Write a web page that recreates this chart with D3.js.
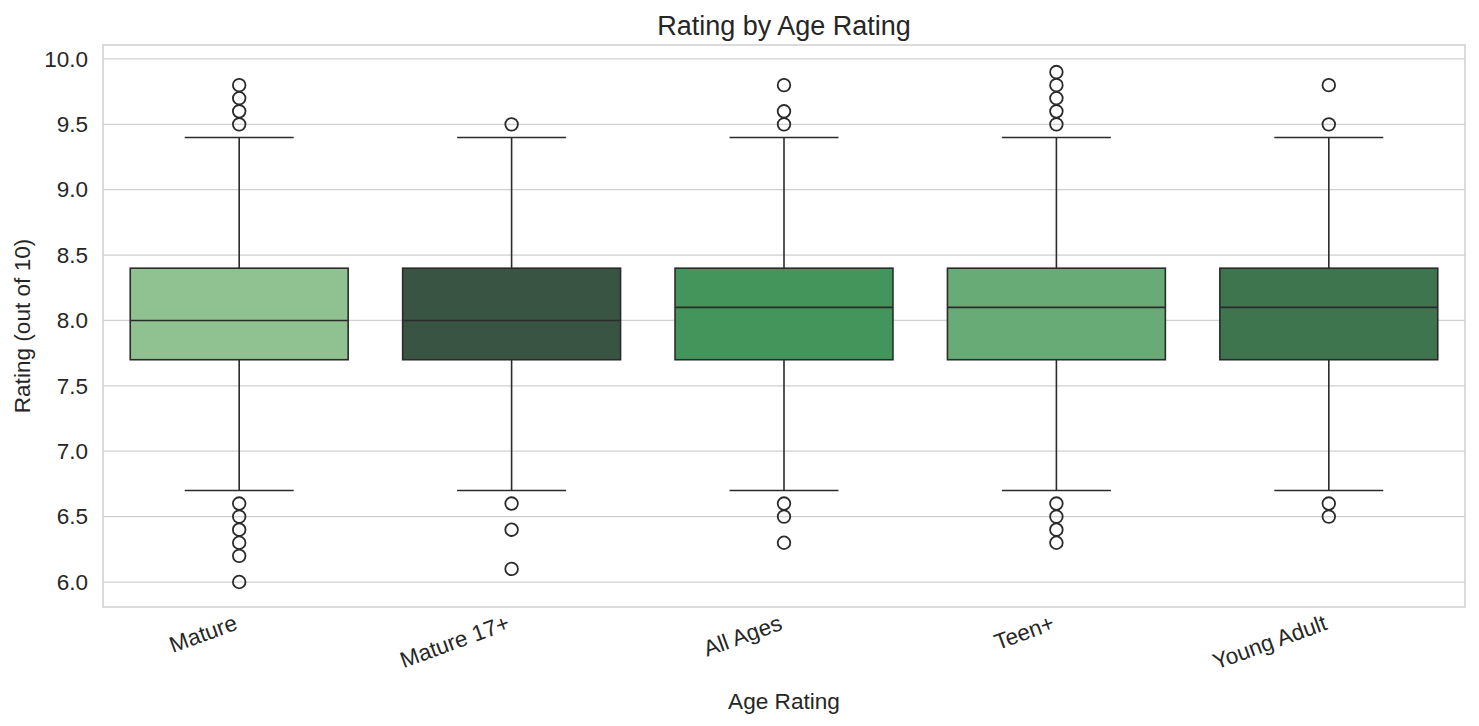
<!DOCTYPE html>
<html><head><meta charset="utf-8">
<script src="https://cdn.jsdelivr.net/npm/d3@7"></script>
<style>body{margin:0;background:#fff;font-family:"DejaVu Sans",Arial,sans-serif;}</style>
</head><body><svg id="c" width="1479" height="726"></svg>
<script>
const categories = ["Mature","Mature 17+","All Ages","Teen+","Young Adult"];
const q1 = [7.7,7.7,7.7,7.7,7.7];
const medians = [8.0,8.0,8.1,8.1,8.1];
const q3 = [8.4,8.4,8.4,8.4,8.4];
const whiskerLow = [6.7,6.7,6.7,6.7,6.7];
const whiskerHigh = [9.4,9.4,9.4,9.4,9.4];
const outliers = [
  [9.5,9.6,9.7,9.8,6.6,6.5,6.4,6.3,6.2,6.0],
  [9.5,6.6,6.4,6.1],
  [9.5,9.6,9.8,6.6,6.5,6.3],
  [9.5,9.6,9.7,9.8,9.9,6.6,6.5,6.4,6.3],
  [9.5,9.8,6.6,6.5]
];
const colors = ["#8fc290","#3a5443","#43955b","#68ab76","#3e754f"];
const yTicks = [6.0,6.5,7.0,7.5,8.0,8.5,9.0,9.5,10.0];

const FF = "Arial, 'Liberation Sans', sans-serif";
const svg = d3.select("#c");
const L=103,R=1465,T=45,B=607;
const x = d3.scaleBand().domain(categories).range([L,R]).paddingInner(0).paddingOuter(0);
const y = d3.scaleLinear().domain([5.8088,10.107]).range([B,T]);
const ink="#2b2b2b";
const bw = x.bandwidth()*0.8;

// grid
svg.append("g").selectAll("line").data(yTicks).join("line")
  .attr("x1",L).attr("x2",R).attr("y1",d=>y(d)).attr("y2",d=>y(d))
  .attr("stroke","#d0d0d0").attr("stroke-width",1.25);
svg.append("rect").attr("x",L).attr("y",T).attr("width",R-L).attr("height",B-T)
  .attr("fill","none").attr("stroke","#d0d0d0").attr("stroke-width",1.5);

// y axis labels
const yAxis = d3.axisLeft(y).tickValues(yTicks).tickFormat(d3.format(".1f")).tickSize(0).tickPadding(15);
const ya = svg.append("g").attr("transform",`translate(${L},0)`).call(yAxis);
ya.select(".domain").remove();
ya.selectAll("text").attr("font-size",22.5).attr("fill","#262626").attr("font-family",FF);

// x axis labels
const xAxis = d3.axisBottom(x).tickSize(0).tickPadding(0);
const xa = svg.append("g").attr("transform",`translate(0,${B})`).call(xAxis);
xa.select(".domain").remove();
xa.selectAll("text").attr("font-size",22.5).attr("fill","#262626").attr("font-family",FF)
  .attr("text-anchor","end").attr("dy",null).attr("y",0)
  .attr("transform","translate(-6,7) rotate(-20)").attr("dominant-baseline","hanging");

// boxes
const g = svg.append("g");
categories.forEach((c,i)=>{
  const cx = x(c)+x.bandwidth()/2;
  const gg = g.append("g");
  gg.append("line").attr("x1",cx).attr("x2",cx).attr("y1",y(q3[i])).attr("y2",y(whiskerHigh[i])).attr("stroke",ink).attr("stroke-width",1.6);
  gg.append("line").attr("x1",cx).attr("x2",cx).attr("y1",y(q1[i])).attr("y2",y(whiskerLow[i])).attr("stroke",ink).attr("stroke-width",1.6);
  [whiskerHigh[i],whiskerLow[i]].forEach(v=>{
    gg.append("line").attr("x1",cx-bw/4).attr("x2",cx+bw/4).attr("y1",y(v)).attr("y2",y(v)).attr("stroke",ink).attr("stroke-width",1.6);
  });
  gg.append("rect").attr("x",cx-bw/2).attr("width",bw).attr("y",y(q3[i])).attr("height",y(q1[i])-y(q3[i]))
    .attr("fill",colors[i]).attr("stroke",ink).attr("stroke-width",1.6);
  gg.append("line").attr("x1",cx-bw/2).attr("x2",cx+bw/2).attr("y1",y(medians[i])).attr("y2",y(medians[i])).attr("stroke",ink).attr("stroke-width",1.6);
  gg.selectAll("circle").data(outliers[i]).join("circle")
    .attr("cx",cx).attr("cy",d=>y(d)).attr("r",6.3).attr("fill","none").attr("stroke",ink).attr("stroke-width",1.8);
});

// titles
svg.append("text").attr("x",(L+R)/2).attr("y",35).attr("text-anchor","middle").attr("font-size",27)
  .attr("fill","#262626").attr("font-family",FF).text("Rating by Age Rating");
svg.append("text").attr("x",(L+R)/2).attr("y",709).attr("text-anchor","middle").attr("font-size",22.6)
  .attr("fill","#262626").attr("font-family",FF).text("Age Rating");
svg.append("text").attr("transform",`translate(30,${(T+B)/2}) rotate(-90)`).attr("text-anchor","middle").attr("font-size",22.6)
  .attr("fill","#262626").attr("font-family",FF).text("Rating (out of 10)");
</script></body></html>
